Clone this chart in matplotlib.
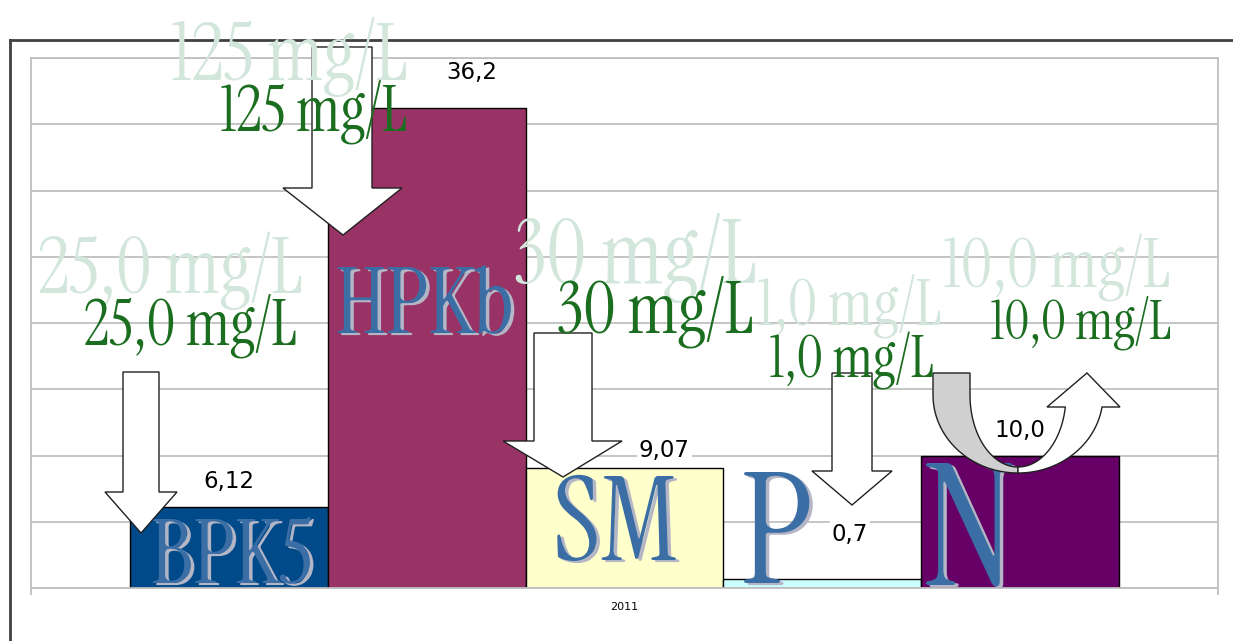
import numpy as np
import matplotlib
matplotlib.use('Agg')
import matplotlib.pyplot as plt
import matplotlib.patches as mpatches
import matplotlib.transforms as mtransforms
import matplotlib.patheffects as pe
from matplotlib.lines import Line2D

W, H = 1233, 641

# Data
year = '2011'
params = ['BPK5', 'HPKb', 'SM', 'P', 'N']
values = [6.12, 36.2, 9.07, 0.7, 10.0]
value_labels = ['6,12', '36,2', '9,07', '0,7', '10,0']
limits = ['25,0 mg/L', '125 mg/L', '30 mg/L', '1,0 mg/L', '10,0 mg/L']

# Styles
bar_colors = ['#004A8A', '#993366', '#FFFFCC', '#CCFFFF', '#660066']
SERIF = ['Instrument Serif', 'Liberation Serif', 'DejaVu Serif']
GREEN = '#1B6E1F'
PALE = '#D3E6DC'
LETTER = '#3A6EA5'

fig = plt.figure(figsize=(W / 100, H / 100), dpi=100)
ax = fig.add_axes([31 / W, 1 - 588 / H, 1187 / W, 530 / H])

x = np.arange(len(values)) - (len(values) - 1) / 2
ax.bar(x, values, width=1.0, color=bar_colors, edgecolor='black', linewidth=1, zorder=2)
ax.set_xlim(-3, 3)
ax.set_ylim(0, 40)
ax.set_yticks(np.arange(0, 41, 5))
ax.tick_params(axis='y', length=0, labelleft=False)
ax.grid(axis='y', color='#C0C0C0', linewidth=1.3)
ax.set_axisbelow(True)
ax.set_xticks([0])
ax.set_xticklabels([year], fontsize=8)
ax.tick_params(axis='x', length=0, pad=10)
ax.set_xticks([-3, 3], minor=True)
ax.tick_params(axis='x', which='minor', length=5, color='#BFBFBF', width=1.3)
for s in ax.spines.values():
    s.set_color('#BFBFBF')
    s.set_linewidth(1.3)

# value labels (hand placed like in the original sheet)
label_dx = [0.0, 0.23, 0.2, 0.14, 0.0]
label_dy = [1.9, 2.7, 1.3, 3.3, 1.9]
for xi, v, s, dx, dy in zip(x, values, value_labels, label_dx, label_dy):
    ax.text(xi + dx, v + dy, s, ha='center', va='center', fontsize=16.5, color='black',
            bbox=dict(fc='white', ec='none', pad=1.5), zorder=3)

# decorations in image pixel coords (origin top-left)
px = mtransforms.Affine2D().scale(1 / W, -1 / H).translate(0, 1) + fig.transFigure

# outer frame
fig.add_artist(Line2D([10, W], [40, 40], transform=px, color='#404040', lw=2))
fig.add_artist(Line2D([10, 10], [40, H], transform=px, color='#404040', lw=2))

# WordArt names on the bars: (center x, baseline y, font size)
letter_pos = [(232, 583, 64), (425, 333, 66), (615, 560, 84), (777, 583, 111), (969, 585, 122)]
for name, (cx, by, fs) in zip(params, letter_pos):
    fig.text(cx, by, name, transform=px, ha='center', va='baseline', fontsize=fs,
             family=SERIF, color=LETTER, zorder=2,
             path_effects=[pe.withSimplePatchShadow(offset=(2.5, -1.5), shadow_rgbFace='#B4B6C6', alpha=1.0)])


# straight down arrows
def down_arrow(sx0, sx1, top, hy, hx0, hx1, tip):
    pts = [(sx0, top), (sx1, top), (sx1, hy), (hx1, hy), tip, (hx0, hy), (sx0, hy)]
    fig.add_artist(mpatches.Polygon(pts, closed=True, transform=px, fc='white', ec='#202020', lw=1, zorder=3))


down_arrow(123, 159, 372, 492, 105, 177, (141, 533))
down_arrow(312, 372, 47, 188, 283, 402, (343, 235))
down_arrow(534, 592, 333, 441, 503, 622, (563, 477))
down_arrow(832, 872, 373, 471, 812, 892, (852, 505))

# U-turn arrow over N
cx, cy = 1018, 395
ro_x, ro_y, ri_x, ri_y = 85, 78, 48, 72
t = np.linspace(np.pi, np.pi / 2, 40)
outer = np.column_stack([cx + ro_x * np.cos(t), cy + ro_y * np.sin(t)])
inner = np.column_stack([cx + ri_x * np.cos(t), cy + ri_y * np.sin(t)])
gray_pts = np.vstack([[[cx - ro_x, 373]], outer, inner[::-1], [[cx - ri_x, 373]]])
fig.add_artist(mpatches.Polygon(gray_pts, closed=True, transform=px, fc='#D0D0D0', ec='#202020', lw=1, zorder=3))
to = np.linspace(np.pi / 2, np.arcsin(12 / ro_y), 40)
ti = np.linspace(np.pi / 2, np.arcsin(12 / ri_y), 40)
outer_r = np.column_stack([cx + ro_x * np.cos(to), cy + ro_y * np.sin(to)])
inner_r = np.column_stack([cx + ri_x * np.cos(ti), cy + ri_y * np.sin(ti)])
white_pts = np.vstack([outer_r, [[1120, 407], [1087, 373], [1047, 407]], inner_r[::-1]])
fig.add_artist(mpatches.Polygon(white_pts, closed=True, transform=px, fc='white', ec='#202020', lw=1, zorder=3))

# pale shadow copies of the limit values: (x, baseline y, font size, align)
pale_pos = [(171, 293, 56, 'center'), (290, 80, 57, 'center'), (635, 283, 63, 'center'),
            (942, 325, 46, 'right'), (1057, 287, 49, 'center')]
for s, (cx, by, fs, ha) in zip(limits, pale_pos):
    fig.text(cx, by, s, transform=px, ha=ha, va='baseline', fontsize=fs,
             family=SERIF, color=PALE, zorder=3.5)

# green limit values
green_pos = [(190, 345, 45), (314, 130, 45), (655, 333, 51), (852, 378, 41), (1081, 338, 39)]
for s, (cx, by, fs) in zip(limits, green_pos):
    fig.text(cx, by, s, transform=px, ha='center', va='baseline', fontsize=fs,
             family=SERIF, color=GREEN, zorder=4)

fig.savefig('out.png', dpi=100)
